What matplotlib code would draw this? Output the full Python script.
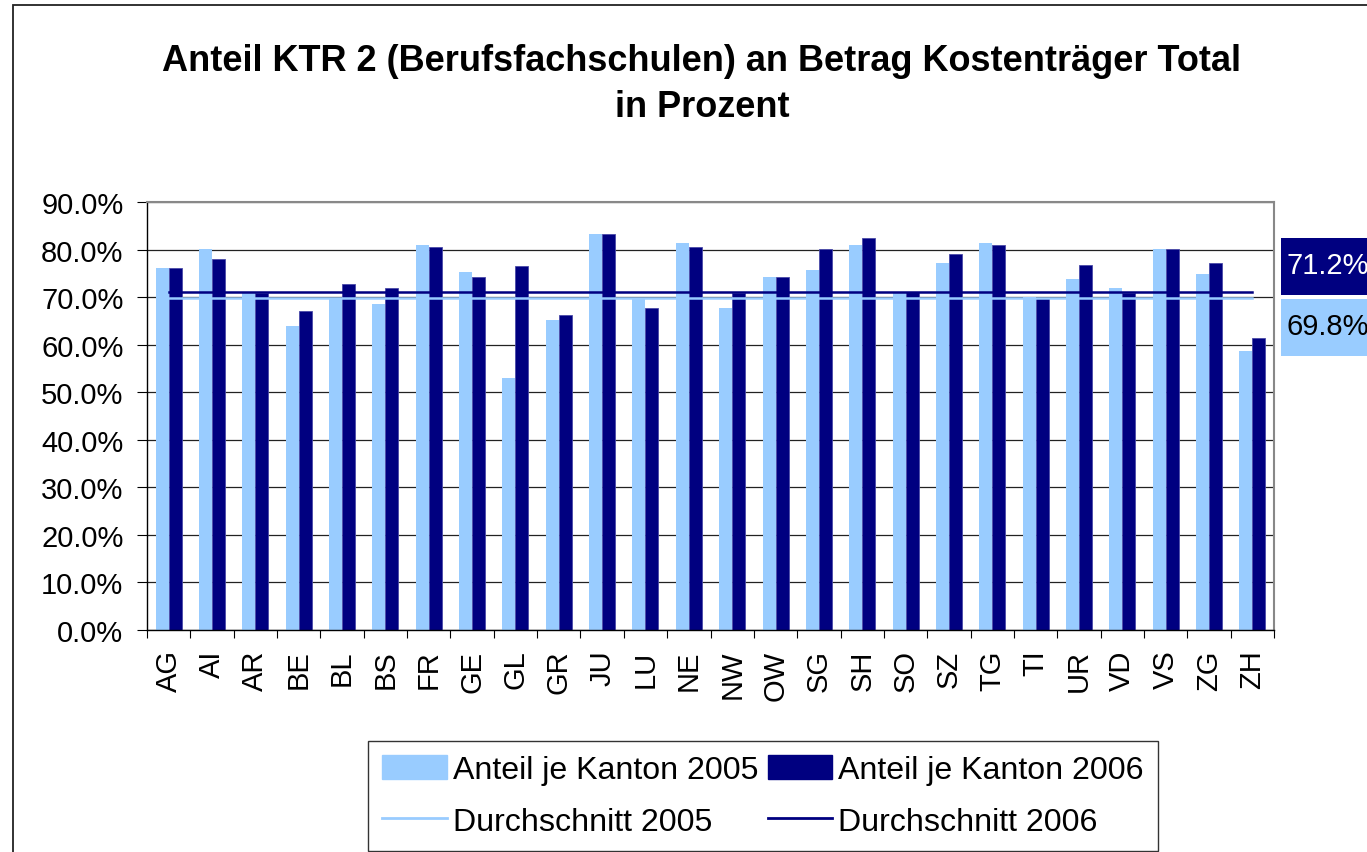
import matplotlib
matplotlib.use("Agg")
import matplotlib.pyplot as plt
import matplotlib.patches as mpatches
from matplotlib.lines import Line2D
from matplotlib.ticker import FuncFormatter, FixedLocator
import numpy as np

plt.rcParams['font.family'] = ['Liberation Sans', 'DejaVu Sans']

kantone = ["AG", "AI", "AR", "BE", "BL", "BS", "FR", "GE", "GL", "GR", "JU", "LU", "NE",
           "NW", "OW", "SG", "SH", "SO", "SZ", "TG", "TI", "UR", "VD", "VS", "ZG", "ZH"]
anteil_2005 = [76.1, 80.1, 71.2, 64.0, 69.6, 68.6, 81.0, 75.3, 53.0, 65.2, 83.3, 69.6, 81.4,
               67.7, 74.3, 75.7, 81.0, 71.2, 77.2, 81.4, 70.1, 73.8, 71.9, 80.1, 74.9, 58.7]
anteil_2006 = [76.1, 78.0, 70.9, 67.1, 72.9, 71.9, 80.6, 74.3, 76.7, 66.2, 83.3, 67.7, 80.6,
               70.9, 74.3, 80.1, 82.5, 71.2, 79.1, 81.0, 69.8, 76.8, 70.9, 80.1, 77.2, 61.4]
schnitt_2005 = 69.8
schnitt_2006 = 71.2

hell = "#99CCFF"
dunkel = "#000080"

W, H = 1367, 853
fig = plt.figure(figsize=(W / 100, H / 100), dpi=100)
ax = fig.add_axes([147 / W, 1 - 631 / H, (1274 - 147) / W, (631 - 203.3) / H])

x = np.arange(len(kantone))
ax.bar(x - 0.15, anteil_2005, width=0.3, color=hell, zorder=2)
ax.bar(x + 0.15, anteil_2006, width=0.3, color=dunkel, edgecolor="#4a4aa8", linewidth=0.6, zorder=2)
ax.plot([0, len(kantone) - 1], [schnitt_2005, schnitt_2005], color=hell, lw=1.8, zorder=3)
ax.plot([0, len(kantone) - 1], [schnitt_2006, schnitt_2006], color=dunkel, lw=1.8, zorder=3)

ax.set_xlim(-0.5, len(kantone) - 0.5)
ax.set_ylim(0, 90)
ax.set_yticks(np.arange(0, 91, 10))
ax.yaxis.set_major_formatter(FuncFormatter(lambda v, p: f"{v:.1f}%"))
ax.grid(axis="y", color="#222222", lw=0.9, zorder=0)
ax.set_axisbelow(True)

ax.set_xticks(x)
ax.set_xticklabels(kantone, rotation=90, fontsize=21)
ax.xaxis.set_minor_locator(FixedLocator(np.arange(-0.5, len(kantone), 1)))
ax.tick_params(axis="x", which="major", length=0, pad=14)
ax.tick_params(axis="x", which="minor", length=6, width=0.8, direction="out")
ax.tick_params(axis="y", labelsize=21, length=7, width=0.8, pad=10)

for s in ["top", "right"]:
    ax.spines[s].set_color("#888888")
    ax.spines[s].set_linewidth(1.5)
for s in ["left", "bottom"]:
    ax.spines[s].set_color("black")
    ax.spines[s].set_linewidth(1.0)

fig.text(702 / W, 1 - 44 / H,
         "Anteil KTR 2 (Berufsfachschulen) an Betrag Kostenträger Total\nin Prozent",
         ha="center", va="top", fontsize=26, fontweight="bold", linespacing=1.4)

# outer chart frame
fig.patches.append(mpatches.Rectangle((13 / W, -0.1), 1.2, 1.1 - 6 / H, transform=fig.transFigure,
                                      fill=False, edgecolor="#222222", lw=1.3))

# boxes with the averages on the right
fig.patches.append(mpatches.Rectangle((1281 / W, 1 - 296 / H), 0.1, 57 / H, transform=fig.transFigure,
                                      facecolor=dunkel, edgecolor="none"))
fig.patches.append(mpatches.Rectangle((1281 / W, 1 - 357 / H), 0.1, 57 / H, transform=fig.transFigure,
                                      facecolor=hell, edgecolor="none"))
fig.text(1286 / W, 1 - 266 / H, f"{schnitt_2006:.1f}%", color="white", fontsize=21, va="center")
fig.text(1286 / W, 1 - 327 / H, f"{schnitt_2005:.1f}%", color="black", fontsize=21, va="center")

handles = [mpatches.Patch(color=hell), Line2D([], [], color=hell, lw=2),
           mpatches.Patch(color=dunkel), Line2D([], [], color=dunkel, lw=2)]
labels = ["Anteil je Kanton 2005", "Durchschnitt 2005", "Anteil je Kanton 2006", "Durchschnitt 2006"]
leg = fig.legend(handles, labels, ncol=2, loc="upper left", bbox_to_anchor=(368 / W, 1 - 742 / H),
                 frameon=True, fancybox=False, edgecolor="black", borderaxespad=0,
                 prop={"size": 23.1},
                 handlelength=2.0, handleheight=0.75, handletextpad=0.19, columnspacing=0.3,
                 labelspacing=0.66, borderpad=0.45)
leg.get_frame().set_linewidth(1.0)

fig.savefig("out.png", dpi=100)
